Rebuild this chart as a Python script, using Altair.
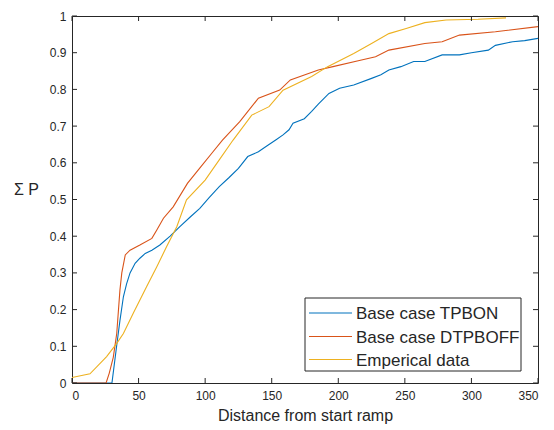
import altair as alt
import pandas as pd

# ---- data ----
series_names = ["Base case TPBON", "Base case DTPBOFF", "Emperical data"]
series_colors = ["#0072BD", "#D95319", "#EDB120"]

blue_x = [0, 30, 33.5, 36, 38.6, 41, 43.6, 47.4, 51, 55, 60, 66, 73.7, 81, 89, 96, 103, 110.6,
          118, 125, 132, 140, 146, 153, 158.5, 163, 166, 174.5, 180, 185, 193, 201, 211.6, 225,
          232, 238, 247, 256.6, 265, 278, 291, 300, 312.7, 318, 331, 340, 350]
blue_y = [0, 0, 0.1, 0.17, 0.235, 0.27, 0.3, 0.326, 0.34, 0.353, 0.362, 0.376, 0.4, 0.426, 0.453,
          0.476, 0.505, 0.535, 0.56, 0.585, 0.617, 0.63, 0.645, 0.662, 0.676, 0.69, 0.708, 0.72,
          0.74, 0.76, 0.789, 0.803, 0.812, 0.83, 0.84, 0.853, 0.862, 0.876, 0.876, 0.894, 0.894,
          0.9, 0.907, 0.92, 0.93, 0.933, 0.939]

red_x = [0, 25.6, 28, 31, 33.6, 36, 37.4, 40, 43.6, 51, 60, 63.7, 68.7, 76, 86.7, 97, 105, 113,
         126, 140, 156, 164, 185, 196, 215, 228, 238, 265, 278, 291, 318, 350]
red_y = [0, 0, 0.027, 0.07, 0.135, 0.253, 0.3, 0.349, 0.362, 0.376, 0.394, 0.417, 0.449, 0.48,
         0.544, 0.59, 0.626, 0.662, 0.712, 0.776, 0.798, 0.826, 0.853, 0.862, 0.878, 0.889, 0.907,
         0.925, 0.93, 0.948, 0.957, 0.971]

yel_x = [0, 13.5, 26, 33.6, 38.6, 46, 56, 63.7, 71, 78.7, 86, 100, 110.6, 121, 135, 148, 158.5,
         180, 192, 211.6, 225, 238, 251, 265, 281, 305, 326]
yel_y = [0.015, 0.025, 0.072, 0.108, 0.135, 0.19, 0.262, 0.317, 0.371, 0.426, 0.499, 0.553, 0.608,
         0.662, 0.73, 0.753, 0.798, 0.835, 0.862, 0.898, 0.925, 0.952, 0.966, 0.982, 0.989, 0.991,
         0.995]

x_ticks = [0, 50, 100, 150, 200, 250, 300, 350]
y_ticks = [0, 0.1, 0.2, 0.3, 0.4, 0.5, 0.6, 0.7, 0.8, 0.9, 1.0]

rows = []
for name, xs, ys in zip(series_names, [blue_x, red_x, yel_x], [blue_y, red_y, yel_y]):
    for i, (a, b) in enumerate(zip(xs, ys)):
        rows.append({"series": name, "d": a, "p": b, "order": i})
df = pd.DataFrame(rows)

W, H = 466, 367
FONT = "Liberation Sans"
GRAY = "#262626"

xscale = alt.Scale(domain=[0, 350], nice=False, zero=False)
yscale = alt.Scale(domain=[0, 1], nice=False, zero=False)
cscale = alt.Scale(domain=series_names, range=series_colors)

xaxis = alt.Axis(values=x_ticks, title="Distance from start ramp", grid=False,
                 ticks=False, domain=False, labelPadding=7, titlePadding=6,
                 labelOverlap=False, tickCount=8,
                 labelFontSize=12, titleFontSize=16, labelColor=GRAY,
                 titleColor=GRAY, labelFont=FONT, titleFont=FONT,
                 titleFontWeight="normal")
yaxis = alt.Axis(values=y_ticks, format="~g", title="Σ P", grid=False,
                 ticks=False, domain=False, labelPadding=6, labelOverlap=False,
                 tickCount=11,
                 labelFontSize=12, titleFontSize=16, labelColor=GRAY,
                 titleColor=GRAY, labelFont=FONT, titleFont=FONT,
                 titleFontWeight="normal", titleAngle=0, titleAlign="center",
                 titleBaseline="middle", titleX=-46, titleY=173)

lines = alt.Chart(df).mark_line(strokeWidth=1.1, clip=True).encode(
    x=alt.X("d:Q", scale=xscale, axis=xaxis),
    y=alt.Y("p:Q", scale=yscale, axis=yaxis),
    color=alt.Color("series:N", scale=cscale, legend=None),
    order="order:Q",
)

xt = pd.DataFrame({"d": x_ticks})
yt = pd.DataFrame({"p": y_ticks})

tick_bottom = alt.Chart(xt).mark_rule(color=GRAY, strokeWidth=1).encode(
    x=alt.X("d:Q", scale=xscale, axis=xaxis), y=alt.value(H), y2=alt.value(H - 5))
tick_top = alt.Chart(xt).mark_rule(color=GRAY, strokeWidth=1).encode(
    x=alt.X("d:Q", scale=xscale, axis=xaxis), y=alt.value(0), y2=alt.value(5))
tick_left = alt.Chart(yt).mark_rule(color=GRAY, strokeWidth=1).encode(
    y=alt.Y("p:Q", scale=yscale, axis=yaxis), x=alt.value(0), x2=alt.value(5))
tick_right = alt.Chart(yt).mark_rule(color=GRAY, strokeWidth=1).encode(
    y=alt.Y("p:Q", scale=yscale, axis=yaxis), x=alt.value(W), x2=alt.value(W - 5))

# ---- legend box (guide), MATLAB style ----
LX0, LX1, LY0, LY1 = 233, 449, 282, 355
legend_df = pd.DataFrame({"series": series_names})
legend_box = alt.Chart(legend_df.head(1)).mark_rect(
    fill="white", stroke=GRAY, strokeWidth=1).encode(
    x=alt.value(LX0), x2=alt.value(LX1), y=alt.value(LY0), y2=alt.value(LY1))

legend_layers = [legend_box]
row_y = [297, 320.5, 343.5]
for i, name in enumerate(series_names):
    sub = legend_df.iloc[[i]]
    legend_layers.append(
        alt.Chart(sub).mark_rule(strokeWidth=1.1).encode(
            x=alt.value(237), x2=alt.value(280), y=alt.value(row_y[i]),
            color=alt.Color("series:N", scale=cscale, legend=None)))
    legend_layers.append(
        alt.Chart(sub).mark_text(align="left", baseline="middle", fontSize=17, font=FONT,
                                 color=GRAY).encode(
            x=alt.value(284), y=alt.value(row_y[i] + 1), text="series:N"))

chart = alt.layer(lines, tick_bottom, tick_top, tick_left, tick_right, *legend_layers).properties(
    width=W, height=H,
    autosize=alt.AutoSizeParams(type="none"),
    padding={"left": 64, "top": 8, "right": 8, "bottom": 42},
    background="white",
).configure_view(stroke=GRAY, strokeWidth=1)

chart.save("out.html", embed_options={"renderer": "svg", "actions": False})
